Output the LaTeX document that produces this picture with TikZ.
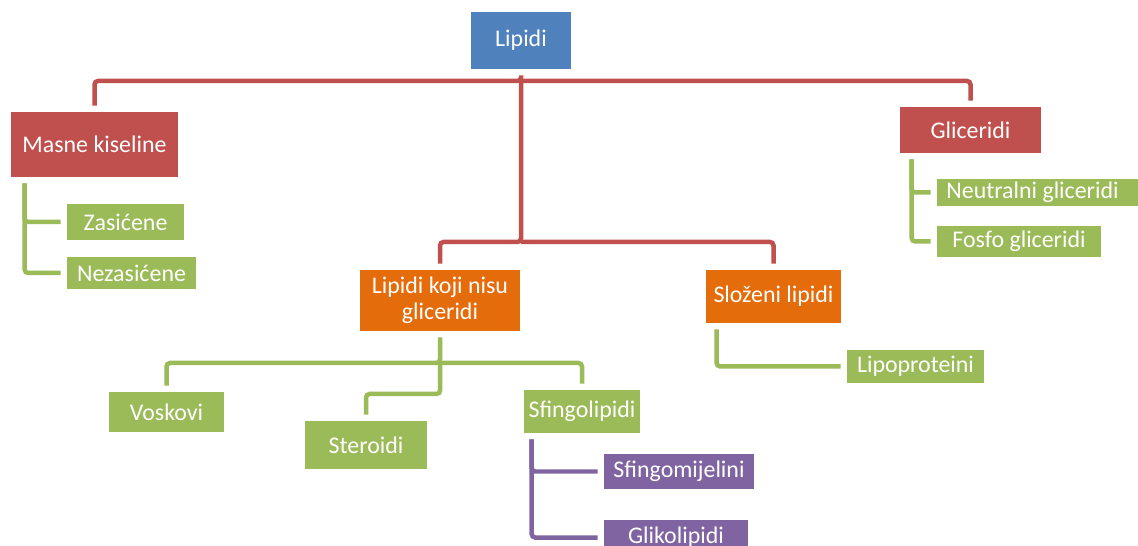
\documentclass[tikz,border=0pt]{standalone}
\usepackage{fontspec}
\setmainfont{Carlito}
\usepackage{tikz}
\usetikzlibrary{positioning,calc}
\definecolor{plava}{RGB}{79,129,189}
\definecolor{crvena}{RGB}{192,80,77}
\definecolor{narancasta}{RGB}{228,108,10}
\definecolor{zelena}{RGB}{155,187,89}
\definecolor{ljubicasta}{RGB}{128,100,162}

\begin{document}
\begin{tikzpicture}[x=0.02cm,y=-0.02cm,
    kutija/.style={inner sep=0pt,align=center,text=white,
        font=\fontsize{13.6}{15}\selectfont},
    veza/.style={line width=0.09cm,rounded corners=2pt,
        shorten <=0.12cm,shorten >=0.12cm}]
    % Okvir slike
    \clip (0,0) rectangle (1138,546);
    \fill[white] (0,0) rectangle (1138,546);

    % Korijen
    \node[kutija,fill=plava,minimum width=2cm,minimum height=1.14cm] (lipidi) at (521,40.5) {Lipidi};

    % Prva razina
    \node[kutija,fill=crvena,minimum width=3.34cm,minimum height=1.3cm] (masne) at (94.5,144.5) {Masne kiseline};
    \node[kutija,fill=crvena,minimum width=2.82cm,minimum height=0.92cm] (glic) at (970.5,130) {Gliceridi};
    \node[kutija,fill=narancasta,minimum width=3.2cm,minimum height=1.22cm] (nisu) at (440,300.5) {Lipidi koji nisu\\gliceridi};
    \node[kutija,fill=narancasta,minimum width=2.7cm,minimum height=1.06cm] (slozeni) at (773.5,296.5) {Složeni lipidi};

    % Masne kiseline
    \node[kutija,fill=zelena,minimum width=2.34cm,minimum height=0.72cm] (zas) at (125.5,222) {Zasićene};
    \node[kutija,fill=zelena,minimum width=2.58cm,minimum height=0.64cm] (nezas) at (131.5,273) {Nezasićene};

    % Gliceridi
    \node[kutija,fill=zelena,minimum width=4.06cm,minimum height=0.54cm] (neutr) at (1038.5,192.5) {Neutralni gliceridi\hspace*{0.24cm}};
    \node[kutija,fill=zelena,minimum width=3.28cm,minimum height=0.62cm] (fosfo) at (1019,241.5) {Fosfo gliceridi};

    % Lipidi koji nisu gliceridi
    \node[kutija,fill=zelena,minimum width=2.3cm,minimum height=0.8cm] (voskovi) at (166.5,412) {Voskovi};
    \node[kutija,fill=zelena,minimum width=2.44cm,minimum height=0.96cm] (steroidi) at (366,445) {Steroidi};
    \node[kutija,fill=zelena,minimum width=2.32cm,minimum height=0.86cm] (sfingo) at (582,411.5) {Sfingolipidi};

    % Sfingolipidi
    \node[kutija,fill=ljubicasta,minimum width=3cm,minimum height=0.7cm] (mijel) at (679,471.5) {Sfingomijelini};
    \node[kutija,fill=ljubicasta,minimum width=2.88cm,minimum height=0.72cm] (gliko) at (676,537.5) {Glikolipidi};

    % Složeni lipidi
    \node[kutija,fill=zelena,minimum width=2.74cm,minimum height=0.66cm] (lipoprot) at (915.5,366.5) {Lipoproteini};

    % Crvene veze
    \coordinate (razd) at (521,81);
    \coordinate (dno) at (521,242);
    \draw[veza,crvena] (lipidi.south) -- (razd) -| (masne.north);
    \draw[veza,crvena,shorten <=0pt] (razd) -| (glic.north);
    \draw[veza,crvena,shorten <=0pt] (razd) -- (dno) -| (nisu.north);
    \draw[veza,crvena,shorten <=0pt] (dno) -| (slozeni.north);

    % Zelene veze
    \draw[veza,zelena] ([xshift=0.28cm]masne.south west) |- (zas.west);
    \draw[veza,zelena] ([xshift=0.28cm]masne.south west) |- (nezas.west);
    \draw[veza,zelena] ([xshift=0.24cm]glic.south west) |- (neutr.west);
    \draw[veza,zelena] ([xshift=0.24cm]glic.south west) |- (fosfo.west);
    \draw[veza,zelena] ([xshift=0.22cm]slozeni.south west) |- (lipoprot.west);

    \coordinate (gnisu) at (440,363);
    \coordinate (gster) at (440,394);
    \draw[veza,zelena] (nisu.south) -- (gnisu) -| (voskovi.north);
    \draw[veza,zelena,shorten <=0pt] (gnisu) -| (sfingo.north);
    \draw[veza,zelena,shorten <=0pt] (gnisu) -- (gster) -| (steroidi.north);

    % Ljubičaste veze
    \draw[veza,ljubicasta] ([xshift=0.16cm]sfingo.south west) |- (mijel.west);
    \draw[veza,ljubicasta] ([xshift=0.16cm]sfingo.south west) |- (gliko.west);
\end{tikzpicture}
\end{document}
